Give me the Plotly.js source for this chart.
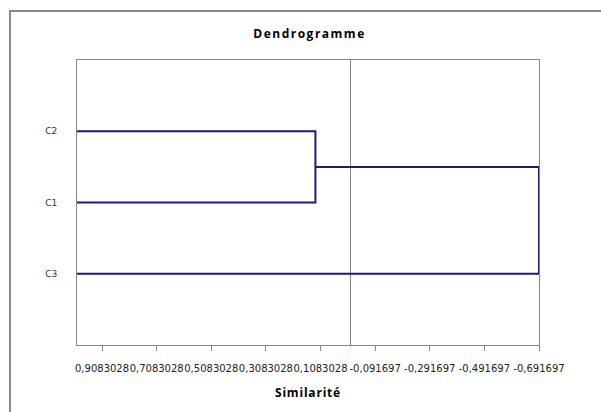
<!DOCTYPE html>
<html>
<head>
<meta charset="utf-8">
<script src="https://cdn.plot.ly/plotly-3.0.1.min.js"></script>
<style>
  html, body { margin: 0; padding: 0; background: #fff; }
  #wrap { position: relative; width: 601px; height: 412px; }
  #chart { width: 601px; height: 412px; }
  #frame { position: absolute; left: 9px; top: 10px; right: -5px; bottom: -5px;
           border-left: 2px solid #8a8a8a; border-top: 2px solid #8a8a8a; pointer-events: none; }
  #chart .gtitle { letter-spacing: 1.5px; }
  #chart .xtitle { letter-spacing: 0.8px; }
</style>
</head>
<body>
<div id="wrap"><div id="chart"></div><div id="frame"></div></div>
<script>
// Leaves (top to bottom) and their positions
const leafLabels = ['C2', 'C1', 'C3'];
const leafPos = [3, 2, 1];
// Similarity at which leaves start and merges occur
const leafSimilarity = 1.0;
const mergeC1C2 = 0.127;
const mergeAll = -0.691697;
// X tick values and labels
const tickVals = [0.9083028, 0.7083028, 0.5083028, 0.3083028, 0.1083028, -0.091697, -0.291697, -0.491697, -0.691697];
const tickText = ['0,9083028', '0,7083028', '0,5083028', '0,3083028', '0,1083028', '-0,091697', '-0,291697', '-0,491697', '-0,691697'];

const yC2 = leafPos[0], yC1 = leafPos[1], yC3 = leafPos[2];
const yMid = (yC2 + yC1) / 2;

const lineStyle = { color: '#1a1a80', width: 2 };

const traces = [
  { x: [leafSimilarity, mergeC1C2, mergeC1C2, leafSimilarity], y: [yC2, yC2, yC1, yC1] },
  { x: [mergeC1C2, mergeAll, mergeAll, leafSimilarity], y: [yMid, yMid, yC3, yC3] }
].map(t => Object.assign(t, { type: 'scatter', mode: 'lines', line: lineStyle, hoverinfo: 'none', showlegend: false }));

const layout = {
  width: 601, height: 412,
  margin: { l: 77, r: 62, t: 60, b: 67 },
  paper_bgcolor: '#ffffff', plot_bgcolor: '#ffffff',
  title: { text: '<b>Dendrogramme</b>', x: 0.515, xanchor: 'center', y: 0.917, yanchor: 'middle',
           font: { family: 'Open Sans, Noto Sans, sans-serif', size: 12, color: '#000' } },
  xaxis: {
    range: [leafSimilarity, mergeAll],
    tickvals: tickVals, ticktext: tickText,
    tickangle: 0,
    ticks: 'outside', ticklen: 5, tickcolor: '#868686', tickwidth: 1,
    ticklabelstandoff: 9,
    tickfont: { family: 'DejaVu Sans, sans-serif', size: 10, color: '#222' },
    showgrid: false,
    zeroline: true, zerolinecolor: '#868686', zerolinewidth: 1,
    showline: true, linecolor: '#868686', linewidth: 1, mirror: true,
    title: { text: '<b>Similarité</b>', standoff: 15,
             font: { family: 'Open Sans, Noto Sans, sans-serif', size: 12, color: '#000' } }
  },
  yaxis: {
    range: [0, 4],
    tickvals: leafPos, ticktext: leafLabels,
    ticks: '', ticklabelstandoff: 17,
    tickfont: { family: 'DejaVu Sans, sans-serif', size: 9, color: '#333' },
    showgrid: false, zeroline: false,
    showline: true, linecolor: '#868686', linewidth: 1, mirror: true
  }
};

Plotly.newPlot('chart', traces, layout, { displayModeBar: false, staticPlot: true });
</script>
</body>
</html>
